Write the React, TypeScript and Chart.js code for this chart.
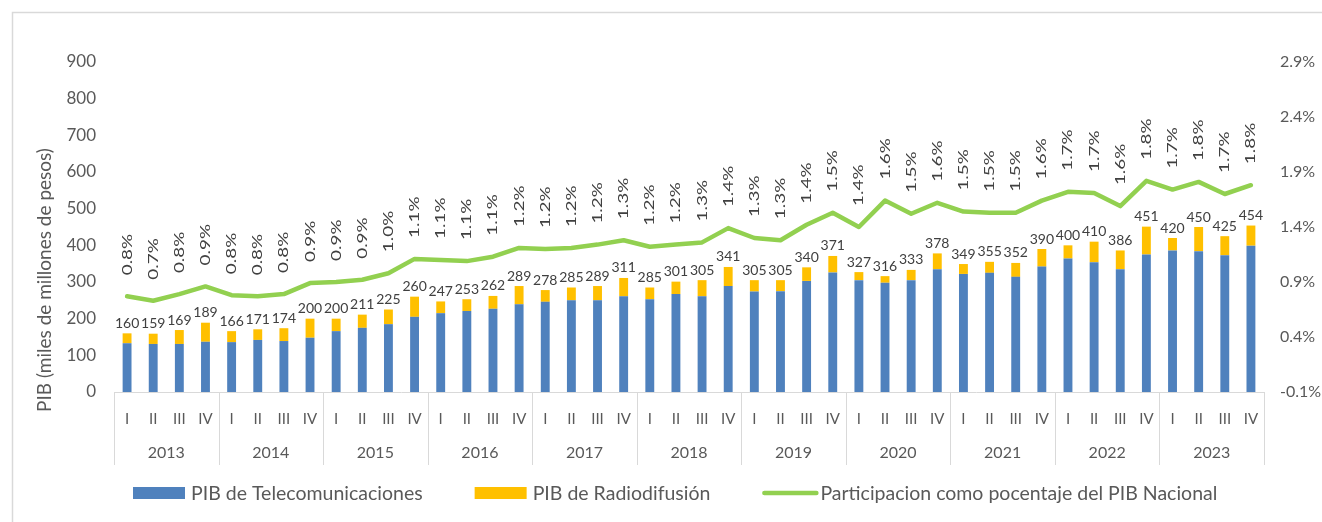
import React, { useEffect, useRef } from "react";
import { Chart, registerables } from "chart.js";

Chart.register(...registerables);

const years = ["2013", "2014", "2015", "2016", "2017", "2018", "2019", "2020", "2021", "2022", "2023"];
const quarters = ["I", "II", "III", "IV"];
const categories = years.flatMap((y) => quarters.map((q) => `${q}-${y}`));

const telecom = [
  133, 131, 131, 137,
  136, 142, 139, 148,
  166, 175, 185, 205,
  215, 221, 227, 239,
  246, 250, 250, 261,
  253, 267, 261, 289,
  274, 275, 303, 326,
  305, 298, 305, 335,
  322, 325, 314, 342,
  364, 354, 335, 375,
  386, 384, 373, 399,
];

const radio = [
  27, 28, 38, 52,
  30, 29, 35, 52,
  34, 36, 40, 55,
  32, 32, 35, 50,
  32, 35, 39, 50,
  32, 34, 44, 52,
  31, 30, 37, 45,
  22, 18, 28, 43,
  27, 30, 38, 48,
  36, 56, 51, 76,
  34, 66, 52, 55,
];

const share = [
  0.77, 0.73, 0.79, 0.86,
  0.78, 0.77, 0.79, 0.89,
  0.9, 0.92, 0.98, 1.11,
  1.1, 1.09, 1.13, 1.21,
  1.2, 1.21, 1.24, 1.28,
  1.22, 1.24, 1.26, 1.39,
  1.3, 1.28, 1.42, 1.53,
  1.4, 1.64, 1.52, 1.62,
  1.54, 1.53, 1.53, 1.64,
  1.72, 1.71, 1.59, 1.82,
  1.74, 1.81, 1.7, 1.78,
];

const leftTicks = [0, 100, 200, 300, 400, 500, 600, 700, 800, 900];
const rightTicks = [-0.1, 0.4, 0.9, 1.4, 1.9, 2.4, 2.9];

const seriesNames = [
  "PIB de Telecomunicaciones",
  "PIB de Radiodifusión",
  "Participacion como pocentaje del PIB Nacional",
];
const yTitle = "PIB (miles de millones de pesos)";

const BLUE = "#4F81BD";
const YELLOW = "#FFC000";
const GREEN = "#92D050";
const AXIS_TEXT = "#595959";
const LABEL_TEXT = "#404040";
const GRID = "#D9D9D9";
const FONT = "Lato";

const decorPlugin = {
  id: "decor",
  afterDraw(chart: any) {
    const { ctx, chartArea: area } = chart;
    ctx.save();

    // outer chart border (cut by the picture)
    ctx.strokeStyle = "#D9D9D9";
    ctx.lineWidth = 1.5;
    ctx.beginPath();
    ctx.moveTo(12.5, 522);
    ctx.lineTo(12.5, 12.5);
    ctx.lineTo(1322, 12.5);
    ctx.stroke();

    // category axis line and year separators
    ctx.strokeStyle = GRID;
    ctx.lineWidth = 1;
    ctx.beginPath();
    ctx.moveTo(area.left, Math.round(area.bottom) + 0.5);
    ctx.lineTo(area.right, Math.round(area.bottom) + 0.5);
    ctx.stroke();
    const catW = (area.right - area.left) / categories.length;
    for (let k = 0; k <= years.length; k++) {
      const px = Math.round(area.left + k * 4 * catW) + 0.5;
      ctx.beginPath();
      ctx.moveTo(px, area.bottom);
      ctx.lineTo(px, area.bottom + 73);
      ctx.stroke();
    }
    ctx.fillStyle = AXIS_TEXT;
    ctx.font = `16px ${FONT}`;
    ctx.textAlign = "center";
    ctx.textBaseline = "middle";
    years.forEach((y, k) => {
      const cx = area.left + (k * 4 + 2) * catW;
      ctx.fillText(y, cx, area.bottom + 61);
    });

    // totals above stacked bars
    const m1 = chart.getDatasetMeta(1);
    ctx.fillStyle = LABEL_TEXT;
    ctx.font = `14px ${FONT}`;
    ctx.textAlign = "center";
    ctx.textBaseline = "middle";
    m1.data.forEach((bar: any, i: number) => {
      const total = telecom[i] + radio[i];
      ctx.fillText(String(total), bar.x, bar.y - 10);
    });

    // rotated percentage labels
    const m2 = chart.getDatasetMeta(2);
    ctx.textAlign = "left";
    ctx.textBaseline = "middle";
    ctx.font = `14px ${FONT}`;
    m2.data.forEach((pt: any, i: number) => {
      ctx.save();
      ctx.translate(pt.x, pt.y - 21);
      ctx.rotate(-Math.PI / 2);
      ctx.scale(1.35, 1);
      ctx.fillText(share[i].toFixed(1) + "%", 0, 0);
      ctx.restore();
    });

    // y axis title
    ctx.save();
    ctx.fillStyle = AXIS_TEXT;
    ctx.font = `19px ${FONT}`;
    ctx.translate(45, 280);
    ctx.rotate(-Math.PI / 2);
    ctx.textAlign = "center";
    ctx.textBaseline = "middle";
    ctx.fillText(yTitle, 0, 0);
    ctx.restore();

    // legend
    const ly = 493;
    ctx.font = `19.5px ${FONT}`;
    ctx.textAlign = "left";
    ctx.textBaseline = "middle";
    let lx = 133;
    const swatchColors = [BLUE, YELLOW, GREEN];
    seriesNames.forEach((name, i) => {
      if (i < 2) {
        ctx.fillStyle = swatchColors[i];
        ctx.fillRect(lx, ly - 6, 52, 12);
      } else {
        ctx.strokeStyle = GREEN;
        ctx.lineWidth = 4.5;
        ctx.lineCap = "round";
        ctx.beginPath();
        ctx.moveTo(lx + 2, ly);
        ctx.lineTo(lx + 54, ly);
        ctx.stroke();
      }
      ctx.fillStyle = AXIS_TEXT;
      const tx = lx + 58;
      ctx.fillText(name, tx, ly + 1);
      lx = tx + ctx.measureText(name).width + 52;
    });

    ctx.restore();
  },
};

export default function App() {
  const canvasRef = useRef<HTMLCanvasElement | null>(null);

  useEffect(() => {
    const canvas = canvasRef.current;
    if (!canvas) return;
    const chart = new Chart(canvas, {
      type: "bar",
      data: {
        labels: categories,
        datasets: [
          {
            label: seriesNames[0],
            data: telecom,
            backgroundColor: BLUE,
            stack: "pib",
            yAxisID: "y",
            barPercentage: 0.34,
            categoryPercentage: 1,
            order: 2,
          },
          {
            label: seriesNames[1],
            data: radio,
            backgroundColor: YELLOW,
            stack: "pib",
            yAxisID: "y",
            barPercentage: 0.34,
            categoryPercentage: 1,
            order: 2,
          },
          {
            type: "line",
            label: seriesNames[2],
            data: share,
            borderColor: GREEN,
            backgroundColor: GREEN,
            borderWidth: 4.5,
            borderCapStyle: "round",
            borderJoinStyle: "round",
            pointRadius: 0,
            tension: 0,
            yAxisID: "y1",
            order: 1,
          } as any,
        ],
      },
      options: {
        animation: false,
        responsive: false,
        devicePixelRatio: 1,
        layout: { padding: { top: 62, left: 0, right: 0, bottom: 0 } },
        plugins: {
          legend: { display: false },
          tooltip: { enabled: false },
          title: { display: false },
        },
        scales: {
          x: {
            stacked: true,
            offset: true,
            grid: { display: false, drawTicks: false },
            border: { display: false },
            ticks: {
              autoSkip: false,
              maxRotation: 0,
              padding: 18,
              color: AXIS_TEXT,
              font: { family: FONT, size: 15 },
              callback: (_v: any, i: number) => quarters[i % 4],
            },
            afterFit: (s: any) => {
              s.height = 130;
            },
          },
          y: {
            stacked: true,
            position: "left",
            min: 0,
            max: 900,
            grid: { display: false, drawTicks: false },
            border: { display: false },
            afterBuildTicks: (s: any) => {
              s.ticks = leftTicks.map((v) => ({ value: v }));
            },
            ticks: {
              padding: 18,
              color: AXIS_TEXT,
              font: { family: FONT, size: 17 },
            },
            afterFit: (s: any) => {
              s.width = 114;
            },
          },
          y1: {
            position: "right",
            min: -0.1,
            max: 2.9,
            grid: { display: false, drawTicks: false },
            border: { display: false },
            afterBuildTicks: (s: any) => {
              s.ticks = rightTicks.map((v) => ({ value: v }));
            },
            ticks: {
              padding: 16,
              color: AXIS_TEXT,
              font: { family: FONT, size: 16 },
              callback: (v: any) => Number(v).toFixed(1) + "%",
            },
            afterFit: (s: any) => {
              s.width = 58;
            },
          },
        },
      },
      plugins: [decorPlugin],
    });
    return () => chart.destroy();
  }, []);

  return (
    <div style={{ position: "fixed", left: 0, top: 0, width: 1322, height: 522, background: "#fff" }}>
      <canvas ref={canvasRef} width={1322} height={522} style={{ display: "block" }} />
    </div>
  );
}
